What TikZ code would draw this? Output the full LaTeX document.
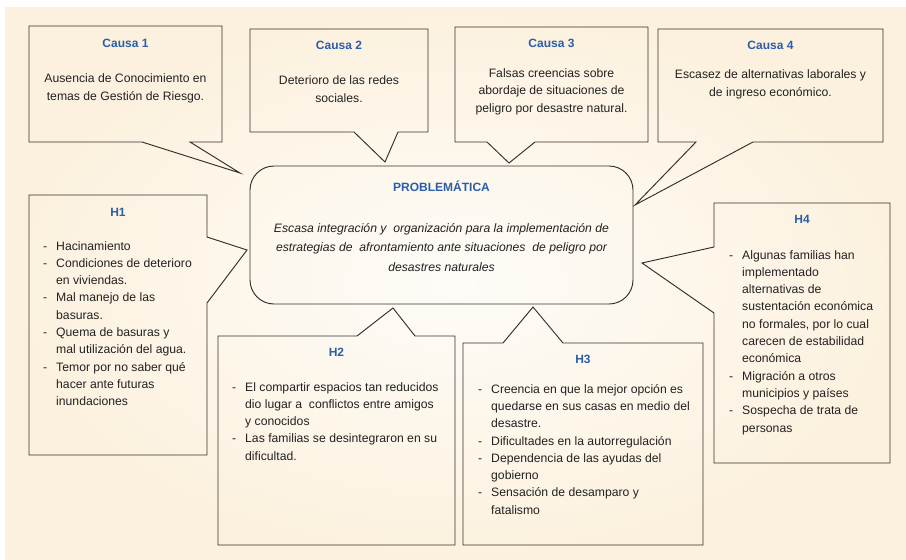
\documentclass[tikz,border=0pt]{standalone}
\usepackage{fontspec}
\setmainfont{Liberation Sans}
\definecolor{TitleBlue}{RGB}{44,94,168}
\definecolor{TextGray}{RGB}{34,34,34}
\definecolor{LineGray}{RGB}{52,48,46}
\definecolor{PaperBeige}{RGB}{252,241,222}
\definecolor{PaperLight}{RGB}{254,252,248}
\usetikzlibrary{positioning,calc}
\tikzset{>=latex}
\newcommand{\guion}{\makebox[13pt][l]{-}}
\newcommand{\sangria}{\hspace*{13pt}}

\begin{document}
\begin{tikzpicture}[x=1pt,y=-1pt,
    calloutline/.style={draw=LineGray,line width=0.95pt,line join=miter},
    boxtitle/.style={font=\bfseries\fontsize{12}{14}\selectfont,text=TitleBlue,anchor=base,inner sep=0pt},
    boxbody/.style={font=\fontsize{12.2}{18}\selectfont,text=TextGray,align=center,anchor=north,inner sep=0pt,execute at begin node=\strut},
    itemlist/.style={font=\fontsize{12.2}{17.3}\selectfont,text=TextGray,align=left,anchor=north west,inner sep=0pt,execute at begin node=\strut}]
        % background
        \useasboundingbox (0,0) rectangle (906,560);
        \shade[inner color=PaperLight,outer color=PaperBeige] (5,7) rectangle (906,560);
        % causas
        \draw[calloutline] (29,26) -- (222,26) -- (222,142) -- (190,142) -- (240,173) -- (142,142) -- (29,142) -- cycle;
        \draw[calloutline] (250,29) -- (428,29) -- (428,132) -- (398,132) -- (385,162) -- (354,132) -- (250,132) -- cycle;
        \draw[calloutline] (455,27) -- (648,27) -- (648,142) -- (535,142) -- (509,163) -- (487,142) -- (455,142) -- cycle;
        \draw[calloutline] (658,29) -- (883,29) -- (883,142) -- (753,142) -- (635,205) -- (696,142) -- (658,142) -- cycle;
        \node[boxtitle] (c1t) at (125.5,47.5) {Causa 1};
        \node[boxtitle] (c2t) at (339,49.5) {Causa 2};
        \node[boxtitle] (c3t) at (551.5,47.5) {Causa 3};
        \node[boxtitle] (c4t) at (770.5,49.5) {Causa 4};
        \node[boxbody] (c1) at (125.5,73) {Ausencia de Conocimiento en\\temas de Gestión de Riesgo.};
        \node[boxbody] (c2) at (339,75) {Deterioro de las redes\\sociales.};
        \node[boxbody,font=\fontsize{12.2}{17.5}\selectfont] (c3) at (551.5,68) {Falsas creencias sobre\\abordaje de situaciones de\\peligro por desastre natural.};
        \node[boxbody] (c4) at (770.5,69) {Escasez de alternativas laborales y\\de ingreso económico.};
        % problematica
        \draw[calloutline,rounded corners=24pt] (250,166) rectangle (633,304);
        \node[boxtitle] (pt) at (441.5,191.5) {PROBLEMÁTICA};
        \node[boxbody,font=\itshape\fontsize{12.2}{19.5}\selectfont] (p) at (441.5,223) {Escasa integración y~ organización para la implementación de\\estrategias de~ afrontamiento ante situaciones~ de peligro por\\desastres naturales};
        % hallazgos
        \draw[calloutline] (29,195) -- (207,195) -- (207,237) -- (247,250) -- (207,303) -- (207,455) -- (29,455) -- cycle;
        \draw[calloutline] (218,336) -- (357,336) -- (393,308) -- (415,336) -- (455,336) -- (455,545) -- (218,545) -- cycle;
        \draw[calloutline] (463,343) -- (503,343) -- (533,307) -- (563,343) -- (703,343) -- (703,545) -- (463,545) -- cycle;
        \draw[calloutline] (714,203) -- (890,203) -- (890,463) -- (714,463) -- (714,313) -- (642,263) -- (714,247) -- cycle;
        \node[boxtitle] (h1t) at (118,216.5) {H1};
        \node[boxtitle] (h2t) at (336.5,356.5) {H2};
        \node[boxtitle] (h3t) at (583,363.5) {H3};
        \node[boxtitle] (h4t) at (802,223.5) {H4};
        \node[itemlist] (h1) at (43,241) {\guion Hacinamiento\\
            \guion Condiciones de deterioro\\\sangria en viviendas.\\
            \guion Mal manejo de las\\\sangria basuras.\\
            \guion Quema de basuras y\\\sangria mal utilización del agua.\\
            \guion Temor por no saber qué\\\sangria hacer ante futuras\\\sangria inundaciones};
        \node[itemlist] (h2) at (232,382) {\guion El compartir espacios tan reducidos\\
            \sangria dio lugar a~ conflictos entre amigos\\\sangria y conocidos\\
            \guion Las familias se desintegraron en su\\\sangria dificultad.};
        \node[itemlist] (h3) at (478,384) {\guion Creencia en que la mejor opción es\\
            \sangria quedarse en sus casas en medio del\\\sangria desastre.\\
            \guion Dificultades en la autorregulación\\
            \guion Dependencia de las ayudas del\\\sangria gobierno\\
            \guion Sensación de desamparo y\\\sangria fatalismo};
        \node[itemlist] (h4) at (729,250) {\guion Algunas familias han\\
            \sangria implementado\\\sangria alternativas de\\\sangria sustentación económica\\
            \sangria no formales, por lo cual\\\sangria carecen de estabilidad\\\sangria económica\\
            \guion Migración a otros\\\sangria municipios y países\\
            \guion Sospecha de trata de\\\sangria personas};
    \end{tikzpicture}
\end{document}
